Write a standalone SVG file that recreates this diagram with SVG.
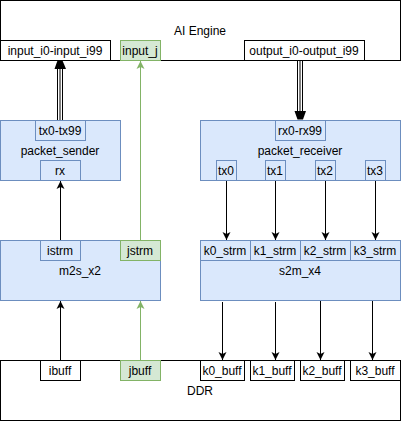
<svg xmlns="http://www.w3.org/2000/svg" width="401" height="421" viewBox="0 0 401 421">
<style>
text{font-family:"Liberation Sans",Arial,sans-serif;font-size:12px;fill:#000;text-anchor:middle}
.w{fill:#fff;stroke:#000;stroke-width:1}
.b{fill:#dae8fc;stroke:#6c8ebf;stroke-width:1}
.g{fill:#d5e8d4;stroke:#82b366;stroke-width:1}
.p{fill:none;stroke:#000;stroke-width:1}
.pg{fill:none;stroke:#82b366;stroke-width:1}
</style>
<defs>
<marker id="a" viewBox="-9 -5 10 10" refX="0" refY="0" markerWidth="10" markerHeight="10" markerUnits="userSpaceOnUse" orient="auto"><path d="M0,0 L-8,-4 L-6,0 L-8,4 Z" fill="#000"/></marker>
<marker id="ag" viewBox="-9 -5 10 10" refX="0" refY="0" markerWidth="10" markerHeight="10" markerUnits="userSpaceOnUse" orient="auto"><path d="M0,0 L-8,-4 L-6,0 L-8,4 Z" fill="#82b366"/></marker>
</defs>
<g id="aie">
<rect class="w" x="0.5" y="0.5" width="400" height="60"/>
<text x="200" y="35">AI Engine</text>
<rect class="w" x="0.5" y="40.5" width="110" height="20"/>
<text x="55" y="55">input_i0-input_i99</text>
<rect class="g" x="120.5" y="40.5" width="40" height="20"/>
<text x="140" y="55">input_j</text>
<rect class="w" x="244.5" y="40.5" width="120" height="20"/>
<text x="304" y="55">output_i0-output_i99</text>
</g>
<g id="packet_sender">
<rect class="b" x="0.5" y="120.5" width="120" height="60"/>
<text x="60" y="155">packet_sender</text>
<rect class="b" x="35.5" y="120.5" width="50" height="20"/>
<text x="60" y="135">tx0-tx99</text>
<rect class="b" x="40.5" y="160.5" width="40" height="20"/>
<text x="60" y="175">rx</text>
</g>
<g id="packet_receiver">
<rect class="b" x="200.5" y="120.5" width="200" height="60"/>
<text x="300" y="155">packet_receiver</text>
<rect class="b" x="275.5" y="120.5" width="50" height="20"/>
<text x="300" y="135">rx0-rx99</text>
<rect class="b" x="216.5" y="160.5" width="20" height="20"/>
<text x="226" y="175">tx0</text>
<rect class="b" x="265.5" y="160.5" width="20" height="20"/>
<text x="275" y="175">tx1</text>
<rect class="b" x="315.5" y="160.5" width="20" height="20"/>
<text x="325" y="175">tx2</text>
<rect class="b" x="365.5" y="160.5" width="20" height="20"/>
<text x="375" y="175">tx3</text>
</g>
<g id="m2s_x2">
<rect class="b" x="0.5" y="240.5" width="160" height="60"/>
<text x="80" y="275">m2s_x2</text>
<rect class="b" x="40.5" y="240.5" width="40" height="20"/>
<text x="60" y="255">istrm</text>
<rect class="g" x="120.5" y="240.5" width="40" height="20"/>
<text x="140" y="255">jstrm</text>
</g>
<g id="s2m_x4">
<rect class="b" x="200.5" y="240.5" width="200" height="60"/>
<text x="300" y="275">s2m_x4</text>
<rect class="b" x="200.5" y="240.5" width="50" height="20"/>
<text x="225" y="255">k0_strm</text>
<rect class="b" x="250.5" y="240.5" width="50" height="20"/>
<text x="275" y="255">k1_strm</text>
<rect class="b" x="300.5" y="240.5" width="50" height="20"/>
<text x="325" y="255">k2_strm</text>
<rect class="b" x="350.5" y="240.5" width="50" height="20"/>
<text x="375" y="255">k3_strm</text>
</g>
<g id="ddr">
<rect class="w" x="0.5" y="360.5" width="400" height="60"/>
<text x="200" y="395">DDR</text>
<rect class="w" x="40.5" y="360.5" width="40" height="20"/>
<text x="60" y="375">ibuff</text>
<rect class="g" x="120.5" y="360.5" width="40" height="20"/>
<text x="140" y="375">jbuff</text>
<rect class="w" x="200.5" y="360.5" width="44" height="20"/>
<text x="222" y="375">k0_buff</text>
<rect class="w" x="250.5" y="360.5" width="44" height="20"/>
<text x="272" y="375">k1_buff</text>
<rect class="w" x="300.5" y="360.5" width="44" height="20"/>
<text x="322" y="375">k2_buff</text>
<rect class="w" x="350.5" y="360.5" width="50" height="20"/>
<text x="375" y="375">k3_buff</text>
</g>
<g id="connectors">
<path class="p" d="M57.5,120 V68 M60,120 V68 M62.5,120 V68"/>
<path d="M57.5,60.5 L62.5,60.5 L66,69 L54.5,69 Z" fill="#000"/>
<path class="p" d="M297.5,61 V112 M300,61 V112 M302.5,61 V112"/>
<path d="M294.5,111 L306,111 L303,119.5 L297.5,119.5 Z" fill="#000"/>
<path class="p" d="M60.5,240 V181" marker-end="url(#a)"/>
<path class="pg" d="M140.5,240 V61" marker-end="url(#ag)"/>
<path class="p" d="M60.5,360 V301" marker-end="url(#a)"/>
<path class="pg" d="M140.5,360 V301" marker-end="url(#ag)"/>
<path class="p" d="M226.5,181 V240" marker-end="url(#a)"/>
<path class="p" d="M275.5,181 V240" marker-end="url(#a)"/>
<path class="p" d="M325.5,181 V240" marker-end="url(#a)"/>
<path class="p" d="M375.5,181 V240" marker-end="url(#a)"/>
<path class="p" d="M222.5,302 V360" marker-end="url(#a)"/>
<path class="p" d="M275.5,302 V360" marker-end="url(#a)"/>
<path class="p" d="M320.5,301 V360" marker-end="url(#a)"/>
<path class="p" d="M372.5,301 V360" marker-end="url(#a)"/>
</g>
</svg>
